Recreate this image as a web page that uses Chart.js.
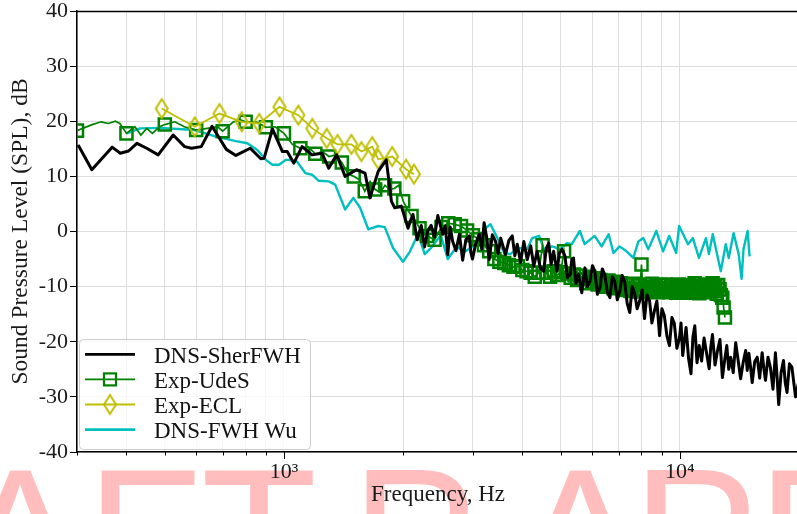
<!DOCTYPE html>
<html><head><meta charset="utf-8">
<script src="https://cdn.jsdelivr.net/npm/chart.js@4.4.1/dist/chart.umd.min.js"></script>
<style>
html,body{margin:0;padding:0;overflow:hidden;background:#fff;width:797px;height:514px}
#wrap{position:absolute;left:0;top:0;width:810px;height:514px}
canvas{display:block}
</style>
</head><body><div id="wrap"><canvas id="c" width="810" height="514" style="width:810px;height:514px"></canvas></div>
<script>
// ---------------- data (Hz, dB) ----------------
const seriesNames = ['DNS-SherFWH', 'Exp-UdeS', 'Exp-ECL', 'DNS-FWH Wu'];

const sherFreq = [302,327,368,386,405,425,450,481,525,561,584,618,658,715,756,822,874,891,935,991,1019,1059,1111,1177,1247,1297,1359,1427,1525,1602,1649,1730,1813,1868,1904,1979,2058,
  2088,2118,2170,2222,2265,2310,2354,2400,2447,2518,2555,2593,2630,2668,2720,2774,2827,2880,2939,2965,2994,3050,3113,3160,3203,3250,3299,3360,3424,3475,3527,3627,3700,3773,3830,3885,3960,4036,4116,4200,4276,4360,4440,4529,4600,4665,4730,4799,4894,4960,5036,5129,5200,5284,5335,5386,5465,5548,5653,5758,5840,5931,6015,6099,6190,6284,6370,6462,6560,6658,6750,6847,6950,7053,7150,7253,7360,7473,7580,7685,7800,7917,8030,8142,8260,8387,8500,8625,8750,8887,9010,9139,9280,9414,9550,9681,9830,9975,10070,10168,10270,10370,10520,10671,10790,10910,11050,11196,11350,11513,11690,11861,11970,12091,12270,12452,12630,12810,12970,13140,13290,13443,13640,13841,14040,14242,14450,14664,14800,14944,15090,15233,15460,15688,15910,16139,16300,16459,16700,16937,17190,17438,17600,17771,18020,18275,18460,18656,18920,19192,19600,20000];
const sherSpl = [15.7,11.2,15.3,14.2,14.6,16.0,15.1,13.9,17.5,15.4,15.1,15.4,19.1,14.9,13.8,15.1,13.2,13.3,18.6,14.5,14.5,12.4,15.4,13.9,14.2,11.5,13.9,10.0,11.2,10.6,6.1,10.9,13.0,5.5,4.3,4.6,0.6,
  2.0,3.1,-1.5,1.1,-2.8,0.2,1.1,-1.0,2.9,-0.5,1.0,-4.2,0.8,-1.8,-3.5,-0.5,-5.2,-1.5,-0.8,-3.8,-5.0,-2.2,-0.5,-3.2,1.6,-1.0,-5.1,-0.6,-1.8,-4.0,-1.2,-4.2,-1.6,-0.8,-4.4,-2.3,-5.6,-1.8,-5.1,-2.6,-6.3,-3.6,-6.6,-7.2,-3.0,-2.1,-6.0,-3.6,-7.2,-4.0,-3.2,-4.5,-8.4,-7.8,-5.0,-4.8,-9.4,-7.8,-11.1,-6.6,-10.0,-9.0,-6.2,-7.2,-11.4,-10.2,-6.8,-7.8,-11.0,-12.0,-8.2,-9.0,-12.4,-10.8,-8.0,-9.0,-13.0,-14.7,-10.0,-11.1,-14.0,-12.6,-10.6,-15.8,-11.5,-12.6,-16.6,-14.4,-12.6,-18.9,-14.0,-15.3,-19.0,-20.7,-15.6,-16.6,-21.2,-19.4,-16.6,-22.5,-19.8,-17.4,-23.0,-25.8,-19.2,-17.1,-23.8,-20.7,-23.5,-19.3,-22.2,-24.9,-21.0,-18.7,-24.2,-21.6,-19.6,-26.5,-23.5,-20.7,-25.0,-22.8,-25.6,-20.2,-23.4,-26.7,-23.8,-21.6,-25.2,-22.1,-24.6,-27.4,-23.6,-22.8,-26.6,-22.0,-24.8,-27.0,-22.8,-24.7,-28.6,-22.0,-26.2,-31.4,-25.6,-23.4,-27.4,-29.2,-24.0,-24.6,-30.0,-27.0];

const udesFreq = [300,325,345,360,375,385,400,420,435,450,465,485,500,530,560,600,640,680,700,745,780,800,850,900,950,1000,
  1050,1100,1150,1200,1250,1300,1350,1400,1450,1500,1550,1600,1650,1700,1750,1800,1850,1900,1950,2000,2050,2100,2150,2200,
  2300,2400,2500,2600,2700,2800,2900,3000,3100,3200,3300,3400,3500,3600,3700,3800,3900,4000,4100,4200,4300,4400,4500,4600,4700,4800,4900,5000,5100,
  5200,5250,5300,5350,5400,5450,5500,5550,5600,5650,
  5700,5750,5800,5850,5900,5950,6000,6050,6100,6150,
  6200,6250,6300,6350,6400,6450,6500,6550,6600,6650,
  6700,6750,6800,6850,6900,6950,7000,7050,7100,7150,
  7200,7250,7300,7350,7400,7450,7500,7550,7600,7650,
  7700,7750,7800,7850,7900,7950,8000,8050,8100,8150,
  8200,8250,8300,8350,8400,8450,8500,8550,8600,8650,
  8700,8750,8800,8850,8900,8950,9000,9050,9100,9150,
  9200,9250,9300,9350,9400,9450,9500,9550,9600,9650,
  9700,9750,9800,9850,9900,9950,10000,10050,10100,10150,
  10200,10250,10300,10350,10400,10450,10500,10550,10600,10650,
  10700,10750,10800,10850,10900,10950,11000,11050,11100,11150,
  11200,11250,11300,11350,11400,11450,11500,11550,11600,11650,
  11700,11750,11800,11850,11900,11950,12000,12050,12100,12150,
  12200,12250,12300,12350,12400,12450,12500,12550,12600,12650,
  12700,12750,12800,12850,12900,13000];
const udesSpl = [18.3,19.3,19.9,19.6,20.0,19.6,17.8,19.0,17.5,18.7,17.8,19.0,19.4,19.9,19.0,18.4,18.7,19.0,18.2,19.9,20.2,19.9,19.9,18.9,19.0,17.8,
  15.8,15.1,15.4,14.1,14.5,13.6,13.9,12.5,10.5,10.0,9.4,7.3,9.1,7.6,7.1,8.4,7.6,7.8,8.4,5.5,4.0,2.8,1.9,0.6,
  -0.8,-1.5,0.8,1.5,1.3,1.0,0.2,-0.7,-1.4,-2.5,-3.6,-5.0,-5.5,-5.7,-6.1,-6.4,-6.3,-7.0,-7.2,-7.5,-8.2,-7.5,-2.5,-7.5,-8.2,-7.2,-7.9,-7.4,-3.6,
  -7.6,-9.1,-8.4,-7.3,-7.8,-9.4,-8.8,-7.8,-8.0,-9.7,
  -8.6,-8.0,-9.4,-8.9,-8.2,-10.1,-9.2,-8.0,-8.5,-9.9,
  -9.6,-8.4,-8.8,-10.3,-9.3,-8.3,-10.0,-9.2,-8.9,-10.5,
  -9.7,-8.6,-10.3,-9.5,-9.1,-10.7,-10.0,-8.8,-9.4,-10.8,
  -10.6,-9.0,-9.6,-10.9,-10.2,-9.1,-10.8,-10.2,-9.5,-11.2,
  -10.4,-9.3,-10.9,-11.0,-9.8,-9.2,-6.0,-9.6,-10.5,-11.2,
  -9.6,-9.4,-10.9,-10.0,-10.1,-11.3,-9.5,-9.2,-10.7,-11.1,
  -10.0,-9.5,-11.0,-10.2,-9.7,-11.3,-10.4,-9.3,-10.9,-10.0,
  -9.6,-11.2,-10.3,-9.4,-11.0,-10.1,-9.8,-11.3,-10.6,-9.3,
  -10.1,-10.4,-11.1,-9.4,-9.6,-11.2,-10.4,-9.5,-10.9,-10.3,
  -9.9,-11.4,-10.6,-9.4,-11.1,-10.2,-9.7,-11.3,-10.3,-9.5,
  -10.9,-11.2,-10.0,-9.2,-9.4,-10.9,-10.7,-9.5,-10.2,-10.6,
  -11.2,-9.4,-9.8,-11.3,-10.5,-9.6,-11.0,-10.2,-9.6,-11.4,
  -10.4,-9.5,-10.9,-10.3,-9.9,-11.3,-10.7,-9.4,-9.4,-11.2,
  -10.8,-9.5,-10.1,-11.0,-11.3,-10.2,-9.7,-11.6,-10.5,-10.0,
  -11.5,-12.2,-12.0,-11.4,-13.8,-15.6];

const eclFreq = [491,595,687,782,866,974,1087,1179,1282,1365,1480,1569,1671,1730,1876,2034,2130];
const eclSpl = [22.3,19.0,21.4,19.9,19.6,22.6,21.1,18.7,16.9,15.8,15.8,14.5,15.4,13.1,13.6,11.3,10.4];

const wuFreq = [401,433,486,567,588,674,756,808,856,900,935,972,1010,1029,1078,1132,1177,1224,1297,1347,1427,1497,1557,1633,1730,1797,1886,1998,2082,2180,2268,2350,2490,2593,2728,2874,3028,3226,3324,3461,3601,3731,3885,4116,4235,4411,4537,4754,4979,5185,5335,5590,5748,6090,6345,6609,6798,7041,7333,7630,7859,8084,8325,8720,9073,9399,9788,9958,10490,10790,11177,11639,11842,12110,12688,13064,13291,13669,14082,14323,14482,14834,15004];
const wuSpl = [17.8,18.7,18.8,18.5,18.5,17.2,16.4,16.0,14.8,13.0,12.1,12.1,13.0,13.0,12.7,10.6,10.3,9.2,9.1,8.5,4.0,6.1,4.3,0.4,1.0,0.8,-3.0,-5.5,-3.6,-0.5,-4.1,-3.0,-0.7,-5.0,-2.8,-3.6,-2.5,0.6,1.3,-1.2,-3.9,-4.1,-3.0,-3.2,-1.2,-0.8,-3.2,-2.7,-3.2,-2.1,-2.3,0.1,-2.3,-0.8,-2.7,-0.5,-3.9,-2.7,-3.6,-4.8,-1.8,-1.2,-3.2,0.1,-3.6,-0.8,-3.9,1.0,-2.3,-1.2,-4.8,-1.2,-4.1,-0.5,-7.2,-2.3,-4.8,-0.3,-4.1,-8.6,-3.2,0.1,-4.5];

const xTickValues = [300,400,500,600,700,800,900,1000,2000,3000,4000,5000,6000,7000,8000,9000,10000,20000];
const xTickText = {1000: '10\u00B3', 10000: '10\u2074'};
const xMin = 300, xMax = 20000, yMin = -40, yMax = 40, yStep = 10;

// ---------------- styling ----------------
const SERIF = '"Liberation Serif", "Times New Roman", serif';
const colors = ['#000000', '#008000', '#bfbf00', '#00bfbf'];

function pts(f, v) { return f.map((x, i) => ({x: x, y: v[i]})); }

function makeDiamond(color) {
  const c = document.createElement('canvas'); c.width = 18; c.height = 26;
  const g = c.getContext('2d');
  g.strokeStyle = color; g.lineWidth = 2; g.lineJoin = 'miter';
  g.beginPath(); g.moveTo(9, 3.5); g.lineTo(15, 13); g.lineTo(9, 22.5); g.lineTo(3, 13); g.closePath(); g.stroke();
  return c;
}
const diamond = makeDiamond(colors[2]);

const watermark = {
  id: 'watermark',
  beforeDraw(chart) {
    const ctx = chart.ctx;
    ctx.save();
    ctx.font = '190px "Liberation Sans", Arial, sans-serif';
    ctx.fillStyle = 'rgba(255,0,0,0.26)';
    ctx.textBaseline = 'alphabetic';
    ctx.textAlign = 'left';
    const letters = ['A','F','T','P','A','P','E'];
    const centers = [20, 148, 259, 417, 580, 698, 824];
    const asc = ctx.measureText('F').actualBoundingBoxAscent;
    const base = 470 + asc;
    letters.forEach((ch, i) => {
      const m = ctx.measureText(ch);
      const ox = centers[i] - (m.actualBoundingBoxRight - m.actualBoundingBoxLeft) / 2;
      ctx.fillText(ch, ox, base);
    });
    ctx.restore();
  }
};

const frame = {
  id: 'frame',
  afterDatasetsDraw(chart) {
    const ctx = chart.ctx, a = chart.chartArea, xs = chart.scales.x;
    ctx.save();
    ctx.strokeStyle = '#000'; ctx.lineWidth = 1.3;
    ctx.beginPath(); ctx.moveTo(a.left, a.top + 0.5); ctx.lineTo(a.right, a.top + 0.5); ctx.stroke();
    ctx.lineWidth = 1;
    xTickValues.forEach(v => {
      const px = Math.round(xs.getPixelForValue(v)) + 0.5;
      const major = (v === 1000 || v === 10000);
      ctx.beginPath(); ctx.moveTo(px, a.bottom); ctx.lineTo(px, a.bottom + (major ? 7 : 3.5)); ctx.stroke();
    });
    const bx = 79.5, by = 339.5, bw = 231, bh = 110, r = 4;
    ctx.beginPath();
    ctx.moveTo(bx + r, by); ctx.lineTo(bx + bw - r, by); ctx.quadraticCurveTo(bx + bw, by, bx + bw, by + r);
    ctx.lineTo(bx + bw, by + bh - r); ctx.quadraticCurveTo(bx + bw, by + bh, bx + bw - r, by + bh);
    ctx.lineTo(bx + r, by + bh); ctx.quadraticCurveTo(bx, by + bh, bx, by + bh - r);
    ctx.lineTo(bx, by + r); ctx.quadraticCurveTo(bx, by, bx + r, by); ctx.closePath();
    ctx.fillStyle = 'rgba(255,255,255,0.8)'; ctx.fill();
    ctx.strokeStyle = '#cccccc'; ctx.lineWidth = 1; ctx.stroke();
    const widths = [2.8, 1.6, 2, 2.6];
    ctx.font = '23px ' + SERIF; ctx.fillStyle = '#111'; ctx.textBaseline = 'alphabetic'; ctx.textAlign = 'left';
    seriesNames.forEach((name, i) => {
      const yb = 363 + i * 25.1, yl = yb - 8.7;
      ctx.strokeStyle = colors[i]; ctx.lineWidth = widths[i];
      ctx.beginPath(); ctx.moveTo(85, yl); ctx.lineTo(135, yl); ctx.stroke();
      if (i === 1) { ctx.lineWidth = 2.2; ctx.strokeRect(104, yl - 6, 12, 12); }
      if (i === 2) { ctx.drawImage(diamond, 110 - 9, yl - 13); }
      ctx.fillText(name, 154, yb);
    });
    ctx.restore();
  }
};

const chart = new Chart(document.getElementById('c'), {
  type: 'line',
  data: {
    datasets: [
      { label: seriesNames[0], data: pts(sherFreq, sherSpl), borderColor: colors[0], borderWidth: 3,
        pointRadius: 0, order: 0, borderJoinStyle: 'round' },
      { label: seriesNames[1], data: pts(udesFreq, udesSpl), borderColor: colors[1], borderWidth: 1.7,
        pointStyle: 'rect', pointBorderColor: colors[1], pointBackgroundColor: 'rgba(0,0,0,0)', pointBorderWidth: 2.5,
        pointRadius: c => (udesFreq[c.dataIndex] % 100 === 0 ? 8.5 : 0), order: 2 },
      { label: seriesNames[2], data: pts(eclFreq, eclSpl), borderColor: colors[2], borderWidth: 1.8,
        pointStyle: diamond, pointRadius: 6, order: 1 },
      { label: seriesNames[3], data: pts(wuFreq, wuSpl), borderColor: colors[3], borderWidth: 2.4,
        pointRadius: 0, order: 3, borderJoinStyle: 'round' }
    ]
  },
  options: {
    responsive: false, animation: false, events: [],
    layout: { padding: { top: 9, right: 6, left: 0, bottom: 0 } },
    elements: { line: { tension: 0 } },
    plugins: { legend: { display: false }, tooltip: { enabled: false } },
    scales: {
      x: {
        type: 'logarithmic', min: xMin, max: xMax,
        afterBuildTicks: s => { s.ticks = xTickValues.map(v => ({ value: v })); },
        afterFit: s => { s.height = 62; s.paddingLeft = 0; s.paddingRight = 0; },
        ticks: { autoSkip: false, maxRotation: 0, minRotation: 0, padding: 0, color: '#1a1a1a',
                 font: { family: SERIF, size: 22 }, callback: v => xTickText[v] || '' },
        grid: { color: '#dddddd', lineWidth: 1, tickLength: 7, tickColor: 'rgba(0,0,0,0)' },
        border: { color: '#000', width: 1.5 },
        title: { display: true, text: 'Frequency, Hz', color: '#1a1a1a', font: { family: SERIF, size: 23 },
                 padding: { top: 0, bottom: 5 } }
      },
      y: {
        min: yMin, max: yMax,
        afterFit: s => { s.width = 77; s.paddingTop = 0; s.paddingBottom = 0; },
        ticks: { stepSize: yStep, padding: 2, color: '#1a1a1a', font: { family: SERIF, size: 22 } },
        grid: { color: '#dddddd', lineWidth: 1, tickLength: 7, tickColor: '#000', tickWidth: 1 },
        border: { color: '#000', width: 1.5 },
        title: { display: true, text: 'Sound Pressure Level (SPL), dB', color: '#1a1a1a',
                 font: { family: SERIF, size: 23.5 }, padding: { top: 7, bottom: 0 } }
      }
    }
  },
  plugins: [watermark, frame]
});
</script>
</body></html>
